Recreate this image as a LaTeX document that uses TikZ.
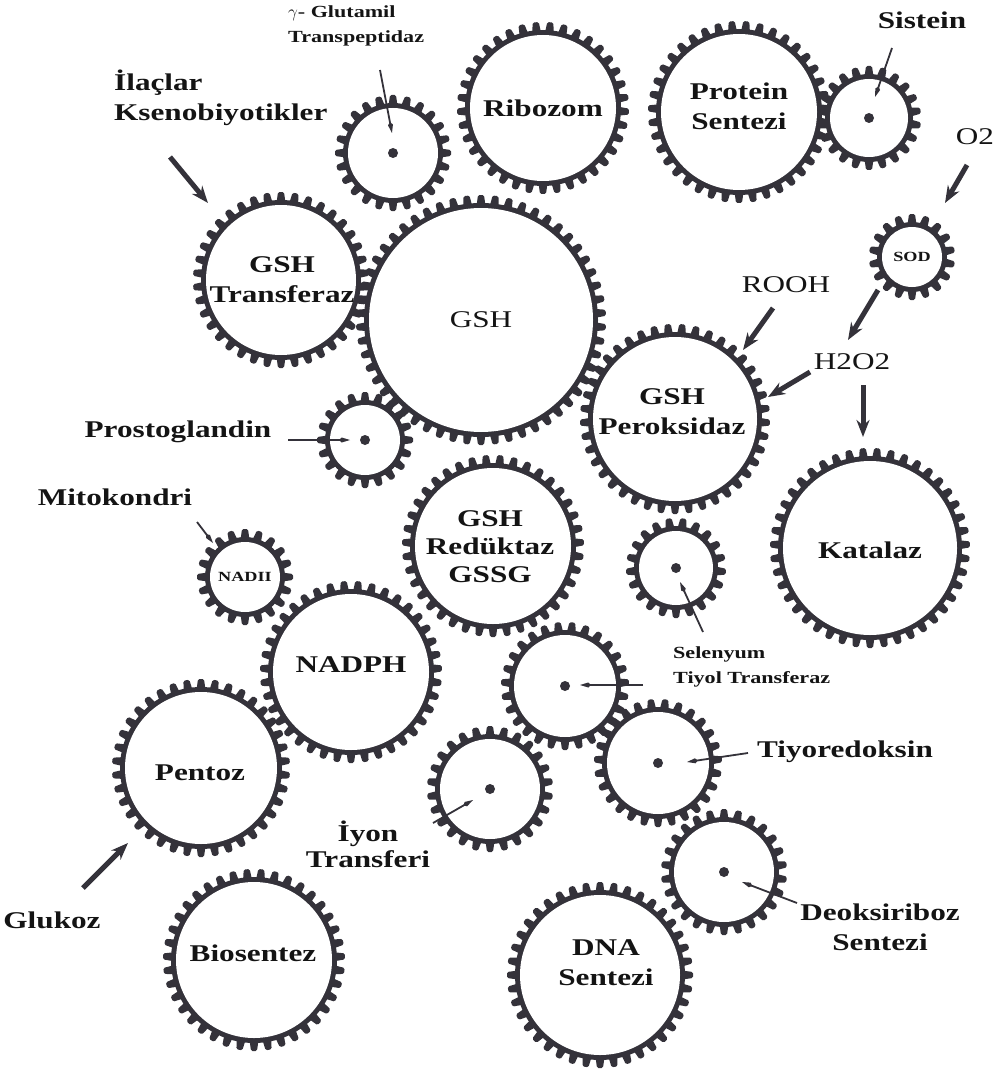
\documentclass[tikz,border=0pt]{standalone}
\usepackage{fontspec}
\setmainfont{Liberation Serif}[FakeStretch=1.3]
\usepackage{tikz}
\usetikzlibrary{arrows.meta}
\usepackage{xcolor}
\definecolor{gearcol}{RGB}{52,50,58}
\definecolor{inkcol}{RGB}{20,20,20}

% gear body: x, y, inner radius
\newcommand{\gearbody}[3]{%
  \pgfmathtruncatemacro{\nteeth}{round(2*pi*(#3+9)/14)}%
  \pgfmathsetmacro{\pitch}{360/\nteeth}%
  \fill[gearcol] (#1,#2) circle[radius={#3pt+5pt}];
  \foreach \k in {1,...,\nteeth}{%
    \fill[gearcol, shift={(#1,#2)}, rotate=\pitch*\k, rounded corners=1.5pt]
      (-4.5,#3+2) -- (-3,#3+13) -- (3,#3+13) -- (4.5,#3+2) -- cycle;
  }%
}

\begin{document}
\begin{tikzpicture}[x=1pt, y=-1pt, inkcol,
  font=\bfseries\fontsize{24}{30}\selectfont,
  lbl/.style={align=center, inner sep=0pt},
  plain/.style={font=\mdseries\fontsize{24}{30}\selectfont},
  small/.style={font=\bfseries\fontsize{17}{25}\selectfont},
  tiny/.style={font=\bfseries\fontsize{14}{16}\selectfont},
  bigarrow/.style={gearcol, line width=5pt, -{Stealth[length=17pt,width=13pt]}},
  needle/.style={gearcol, line width=1.8pt, -{Kite[length=11pt,width=5pt]}},
  hub/.style={circle, fill=gearcol, inner sep=0pt, minimum size=10pt}]
\useasboundingbox (0,0) rectangle (1001,1078);

\foreach \px/\py/\r in {393/153/45, 543/108/73, 739/112/78, 869/118/39, 912/257/30,
    281/280/75, 481/320/112, 675/419/82, 365/440/35, 493/546/78, 245/577/35,
    676/568/37, 870/548/87, 351/672/78, 565/686/51, 201/768/76, 490/789/50,
    658/763/51, 724/872/50, 254/960/78, 600/975/80}
  {\gearbody{\px}{\py}{\r}}
\foreach \nm/\px/\py/\r in {ggt/393/153/45, ribozom/543/108/73, protein/739/112/78,
    sistein/869/118/39, sod/912/257/30, transferaz/281/280/75, gsh/481/320/112,
    peroksidaz/675/419/82, prosto/365/440/35, reduktaz/493/546/78, nadh/245/577/35,
    selenyum/676/568/37, katalaz/870/548/87, nadph/351/672/78, tiyol/565/686/51,
    pentoz/201/768/76, iyon/490/789/50, tiyored/658/763/51, deoksi/724/872/50,
    biosentez/254/960/78, dna/600/975/80}
  {\fill[white] (\px,\py) circle[radius=\r pt];
   \coordinate (\nm) at (\px,\py);}

\foreach \nm in {ggt, sistein, prosto, selenyum, tiyol, iyon, tiyored, deoksi}
  \node[hub] (\nm hub) at (\nm) {};

\node[lbl, small, align=left, anchor=west] (ggtlbl) at (288,26) {$\gamma$- Glutamil\\Transpeptidaz};
\node[lbl, align=left, anchor=west] (ilaclbl) at (114,98) {İlaçlar\\Ksenobiyotikler};
\node[lbl] (ribozomlbl) at (ribozom) {Ribozom};
\node[lbl] (proteinlbl) at (739,106) {Protein\\Sentezi};
\node[lbl] (sisteinlbl) at (922,20) {Sistein};
\node[lbl, plain] (o2lbl) at (975,137) {O2};
\node[lbl, tiny] (sodlbl) at (sod) {SOD};
\node[lbl] (transferazlbl) at (282,280) {GSH\\Transferaz};
\node[lbl, plain] (gshlbl) at (gsh) {GSH};
\node[lbl, plain] (roohlbl) at (786,285) {ROOH};
\node[lbl, plain] (h2o2lbl) at (852,362) {H2O2};
\node[lbl] (peroksidazlbl) at (672,412) {GSH\\Peroksidaz};
\node[lbl] (prostolbl) at (178,432) {Prostoglandin};
\node[lbl] (mitolbl) at (115,497) {Mitokondri};
\node[lbl, font=\bfseries\fontsize{24}{28}\selectfont] (reduktazlbl) at (490,547) {GSH\\Redüktaz\\GSSG};
\node[lbl, tiny] (nadhlbl) at (nadh) {NADII};
\node[lbl] (katalazlbl) at (870,550) {Katalaz};
\node[lbl] (nadphlbl) at (351,665) {NADPH};
\node[lbl, small, align=left, anchor=west] (selenyumlbl) at (673,667) {Selenyum\\Tiyol Transferaz};
\node[lbl] (pentozlbl) at (200,773) {Pentoz};
\node[lbl] (tiyoredlbl) at (845,752) {Tiyoredoksin};
\node[lbl, font=\bfseries\fontsize{24}{26}\selectfont] (iyonlbl) at (368,844) {İyon\\Transferi};
\node[lbl] (glukozlbl) at (52,920) {Glukoz};
\node[lbl] (deoksilbl) at (880,927) {Deoksiriboz\\Sentezi};
\node[lbl] (biosentezlbl) at (253,953) {Biosentez};
\node[lbl] (dnalbl) at (606,963) {DNA\\Sentezi};

\coordinate (ggt-a) at (380,70);       \coordinate (ggt-b) at (392,133);
\coordinate (sistein-a) at (892,48);   \coordinate (sistein-b) at (875,97);
\coordinate (prosto-a) at (288,440);   \coordinate (prosto-b) at (350,440);
\coordinate (mito-a) at (197,522);     \coordinate (mito-b) at (213,543);
\coordinate (selen-a) at (703,632);    \coordinate (selen-b) at (680,582);
\coordinate (tiyol-a) at (643,685);    \coordinate (tiyol-b) at (580,685);
\coordinate (iyon-a) at (433,823);     \coordinate (iyon-b) at (473,800);
\coordinate (tiyored-a) at (748,753);  \coordinate (tiyored-b) at (687,762);
\coordinate (deoksi-a) at (797,903);   \coordinate (deoksi-b) at (742,882);
\draw[needle] (ggt-a) -- (ggt-b);
\draw[needle] (sistein-a) -- (sistein-b);
\draw[needle] (prosto-a) -- (prosto-b);
\draw[needle] (mito-a) -- (mito-b);
\draw[needle] (selen-a) -- (selen-b);
\draw[needle] (tiyol-a) -- (tiyol-b);
\draw[needle] (iyon-a) -- (iyon-b);
\draw[needle] (tiyored-a) -- (tiyored-b);
\draw[needle] (deoksi-a) -- (deoksi-b);

\coordinate (ilac-a) at (170,157);     \coordinate (ilac-b) at (208,203);
\coordinate (o2-a) at (967,165);       \coordinate (o2-b) at (945,203);
\coordinate (sod-a) at (878,290);      \coordinate (sod-b) at (848,340);
\coordinate (rooh-a) at (773,308);     \coordinate (rooh-b) at (743,350);
\coordinate (h2o2-a) at (810,372);     \coordinate (h2o2-b) at (768,397);
\coordinate (h2o2-c) at (863,385);     \coordinate (h2o2-d) at (863,437);
\coordinate (glukoz-a) at (83,888);    \coordinate (glukoz-b) at (128,843);
\draw[bigarrow] (ilac-a) -- (ilac-b);
\draw[bigarrow] (o2-a) -- (o2-b);
\draw[bigarrow] (sod-a) -- (sod-b);
\draw[bigarrow] (rooh-a) -- (rooh-b);
\draw[bigarrow] (h2o2-a) -- (h2o2-b);
\draw[bigarrow] (h2o2-c) -- (h2o2-d);
\draw[bigarrow] (glukoz-a) -- (glukoz-b);
\end{tikzpicture}
\end{document}
